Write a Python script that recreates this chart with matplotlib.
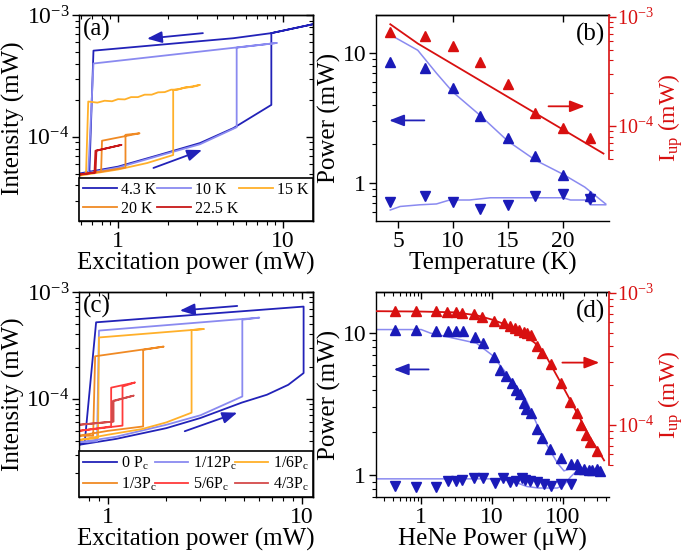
import matplotlib
matplotlib.use('Agg')
import matplotlib.pyplot as plt
from matplotlib import ticker

plt.rcParams['font.family'] = ['Liberation Serif', 'DejaVu Serif']
plt.rcParams['mathtext.fontset'] = 'custom'
plt.rcParams['mathtext.rm'] = 'Liberation Serif'
plt.rcParams['mathtext.it'] = 'Liberation Serif:italic'
plt.rcParams['mathtext.default'] = 'regular'
plt.rcParams['font.size'] = 16
plt.rcParams['axes.linewidth'] = 1.0

# colours
DBLUE = '#2222b8'
LBLUE = '#8a8af0'
LORANGE = '#ffb02a'
ORANGE = '#f08a24'
DRED = '#c81818'
RED = '#d81010'
RED2 = '#ff3a3a'
RED3 = '#d44a4a'
TRI_BLUE = '#1a1ab8'

# ---------- (a) hysteresis vs temperature ----------
t43_x = [0.58, 1.0, 1.77, 3.14, 5.0, 8.5, 8.5, 15.2, 8.5, 5.0, 0.71, 0.67, 0.58]
t43_y = [5.0e-5, 5.7e-5, 7.1e-5, 8.9e-5, 1.18e-4, 1.83e-4, 7.1e-4, 8.4e-4, 7.1e-4, 6.45e-4, 5.1e-4, 5.0e-5, 4.9e-5]
t10_x = [0.58, 1.0, 1.77, 3.14, 5.24, 5.24, 9.2, 0.71, 0.66, 0.58]
t10_y = [4.9e-5, 5.6e-5, 7.0e-5, 8.7e-5, 1.2e-4, 5.4e-4, 5.9e-4, 4.0e-4, 5.0e-5, 4.9e-5]
t15_x = [0.58, 1.0, 1.5, 2.16, 2.16, 3.14, 2.8, 2.55, 2.3, 2.1, 1.92, 1.75, 1.6, 1.45, 1.32, 1.2,
         1.1, 1.0, 0.92, 0.83, 0.75, 0.66, 0.64, 0.58]
t15_y = [4.8e-5, 5.4e-5, 6.1e-5, 7.1e-5, 2.42e-4, 2.67e-4, 2.56e-4, 2.55e-4, 2.44e-4, 2.44e-4, 2.33e-4,
         2.32e-4, 2.22e-4, 2.22e-4, 2.12e-4, 2.12e-4, 2.03e-4, 2.04e-4, 1.96e-4, 1.98e-4, 1.91e-4,
         1.95e-4, 5.0e-5, 4.9e-5]
t20_x = [0.58, 0.8, 1.11, 1.11, 1.35, 0.80, 0.79, 0.58]
t20_y = [4.9e-5, 5.2e-5, 5.6e-5, 1.04e-4, 1.07e-4, 9.3e-5, 5.2e-5, 4.9e-5]
t225_x = [0.58, 0.73, 0.74, 1.05, 0.73, 0.72, 0.58]
t225_y = [4.9e-5, 5.1e-5, 7.7e-5, 8.6e-5, 7.7e-5, 5.1e-5, 4.9e-5]
labels_a = ['4.3 K', '10 K', '15 K', '20 K', '22.5 K']

# ---------- (c) hysteresis vs HeNe power ----------
p0_x = [0.71, 1.1, 2.0, 3.0, 4.9, 6.6, 8.5, 10.2, 10.2, 0.87, 0.76, 0.71]
p0_y = [3.7e-5, 4.2e-5, 5.3e-5, 6.6e-5, 9.2e-5, 1.09e-4, 1.35e-4, 1.74e-4, 7.3e-4, 5.2e-4, 3.9e-5, 3.7e-5]
p12_x = [0.71, 1.1, 2.0, 3.0, 4.93, 4.93, 6.03, 0.90, 0.88, 0.71]
p12_y = [3.9e-5, 4.4e-5, 5.7e-5, 7.0e-5, 1.05e-4, 5.5e-4, 5.75e-4, 4.35e-4, 4.0e-5, 3.9e-5]
p6_x = [0.71, 1.0, 1.5, 2.0, 2.7, 2.7, 3.13, 0.90, 0.89, 0.71]
p6_y = [4.1e-5, 4.6e-5, 5.2e-5, 6.0e-5, 7.4e-5, 4.4e-4, 4.5e-4, 3.75e-4, 4.3e-5, 4.1e-5]
p3_x = [0.71, 1.0, 1.52, 1.52, 1.94, 0.86, 0.84, 0.71]
p3_y = [4.5e-5, 5.0e-5, 5.5e-5, 2.87e-4, 3.08e-4, 2.5e-4, 4.5e-5, 4.5e-5]
p56_x = [0.71, 1.19, 1.19, 1.38, 1.04, 1.04, 0.71]
p56_y = [5.0e-5, 5.6e-5, 1.30e-4, 1.42e-4, 1.27e-4, 5.5e-5, 5.0e-5]
p43_x = [0.71, 1.07, 1.07, 1.36, 1.05, 1.05, 0.71]
p43_y = [5.7e-5, 6.1e-5, 9.6e-5, 1.07e-4, 9.4e-5, 6.1e-5, 5.7e-5]
labels_c = ['0 P$_c$', '1/12P$_c$', '1/6P$_c$', '1/3P$_c$', '5/6P$_c$', '4/3P$_c$']

# ---------- (b) thresholds vs temperature ----------
temp_b = [4.3, 7.5, 10, 12.5, 15, 17.5, 20, 22.5]
iup_b = [7.2e-4, 6.65e-4, 5.4e-4, 3.9e-4, 2.45e-4, 1.32e-4, 9.7e-5, 7.7e-5]
pup_b = [8.5, 7.7, 5.4, 3.3, 2.2, 1.6, 1.16, 0.79]
pdown_b = [0.72, 0.80, 0.71, 0.63, 0.68, 0.79, 0.82, 0.75]
fit_iup_t = [4.3, 6.8, 23.7]
fit_iup_b = [8.56e-4, 5.7e-4, 5.6e-5]
fit_pup_t = [4.3, 6.8, 8.5, 10, 12.5, 15, 17.5, 20, 22, 23.9]
fit_pup_b = [13.8, 10.5, 7.0, 5.0, 3.3, 2.1, 1.5, 1.17, 0.93, 0.69]
fit_pdn_t = [4.3, 5.2, 7, 8.5, 9.7, 11.5, 13.4, 20, 20.7, 22.2, 22.5, 23.9]
fit_pdn_b = [0.62, 0.66, 0.68, 0.69, 0.74, 0.74, 0.77, 0.77, 0.74, 0.74, 0.68, 0.68]

# ---------- (d) thresholds vs HeNe power ----------
hene_red = [0.43, 0.83, 1.59, 2.33, 3.06, 3.8, 5.6, 7.3, 10.5, 14.6, 17.7, 20.7, 23.8, 28, 31.3, 34.8,
            43.3, 49.8, 66.8, 92.5, 125, 156, 181, 209, 240, 305]
iup_d = [7.3e-4, 7.3e-4, 7.27e-4, 7.18e-4, 7.18e-4, 7.1e-4, 6.93e-4, 6.6e-4, 6.17e-4, 5.9e-4, 5.6e-4,
         5.4e-4, 5.25e-4, 5.1e-4, 4.95e-4, 4.8e-4, 4.0e-4, 3.5e-4, 2.9e-4, 2.07e-4, 1.5e-4, 1.23e-4,
         1.0e-4, 8.4e-5, 7.4e-5, 6.4e-5]
hene_up = [0.43, 0.85, 1.63, 2.38, 3.12, 3.88, 5.68, 7.45, 10.5, 13.1, 15.9, 19.2, 21.4, 24.6, 28, 30.5,
           34.8, 43.3, 51, 65.3, 94.6, 128, 156, 167, 197, 233, 259, 298, 334]
pup_d = [10.6, 10.6, 10.3, 10.4, 10.4, 10.4, 9.4, 8.55, 6.75, 5.5, 4.98, 4.43, 3.97, 3.71, 3.2, 2.9,
         2.72, 2.1, 1.81, 1.52, 1.31, 1.19, 1.2, 1.11, 1.10, 1.09, 1.09, 1.10, 1.07]
hene_dn = [0.43, 0.85, 1.63, 2.38, 3.12, 3.8, 5.57, 7.45, 10.9, 14.3, 18.1, 22, 26.6, 29.5, 34, 43.3,
           53.9, 66.9, 92.5, 128]
pdown_d = [0.84, 0.82, 0.82, 0.91, 0.91, 0.92, 0.95, 0.95, 0.88, 0.96, 0.90, 0.91, 0.95, 0.93, 0.91,
           0.90, 0.87, 0.84, 0.87, 0.87]
fit_up_x = [0.23, 1.0, 1.35, 6.0, 10, 20, 30, 54, 83, 103, 128, 165]
fit_up_d = [10.6, 10.6, 10.0, 8.5, 7.0, 4.5, 3.4, 1.76, 1.22, 1.07, 1.11, 1.10]
fit_dn_x = [0.23, 12, 20, 31, 45, 83, 103, 128, 165]
fit_dn_d = [0.94, 0.94, 0.90, 0.83, 0.81, 0.81, 0.85, 0.97, 1.10]
fit_red_x = [0.23, 1, 3, 6, 10, 20, 40, 60, 100, 150, 250, 380]
fit_red_d = [7.3e-4, 7.25e-4, 7.15e-4, 6.8e-4, 6.3e-4, 5.5e-4, 4.2e-4, 3.2e-4, 1.95e-4, 1.3e-4, 7.8e-5, 5.4e-5]

TICK_FS = 17
LABEL_FS = 18


def plain_fmt(v, pos):
    return f'{v:g}'


def frame_ticks(ax, mirror_right=True):
    # left/bottom ticks outward, mirrored ticks on top/right pointing in
    ax.tick_params(which='both', direction='out', top=False, right=False, labelsize=TICK_FS, pad=2)
    ax.tick_params(which='major', length=5, width=1)
    ax.tick_params(which='minor', length=3, width=0.8)
    top = ax.secondary_xaxis('top')
    top.tick_params(which='both', direction='in')
    top.tick_params(which='major', length=5, width=1)
    top.tick_params(which='minor', length=3, width=0.8)
    top.xaxis.set_major_formatter(ticker.NullFormatter())
    top.xaxis.set_minor_formatter(ticker.NullFormatter())
    if mirror_right:
        right = ax.secondary_yaxis('right')
        right.tick_params(which='both', direction='in')
        right.tick_params(which='major', length=5, width=1)
        right.tick_params(which='minor', length=3, width=0.8)
        right.yaxis.set_major_formatter(ticker.NullFormatter())
        right.yaxis.set_minor_formatter(ticker.NullFormatter())


def arrow(ax, tail, head, color):
    ax.annotate('', xy=head, xytext=tail,
                arrowprops=dict(arrowstyle='-|>,head_length=0.9,head_width=0.35', color=color,
                                lw=1.3, shrinkA=0, shrinkB=0, mutation_scale=10))


def red_axis(ax, ylim, label):
    ax2 = ax.twinx()
    ax2.set_yscale('log')
    ax2.set_ylim(*ylim)
    for s in ['left', 'top', 'bottom']:
        ax2.spines[s].set_visible(False)
    ax.spines['right'].set_visible(False)
    ax2.spines['right'].set_color(RED)
    ax2.spines['right'].set_linewidth(1.2)
    ax2.spines['right'].set_bounds(5e-5, ylim[1])
    ax2.yaxis.set_major_locator(ticker.FixedLocator([1e-4, 1e-3]))
    minors = [m * 10.0 ** e for e in (-5, -4) for m in range(2, 10) if 5e-5 <= m * 10.0 ** e < 1e-3]
    ax2.yaxis.set_minor_locator(ticker.FixedLocator(minors))
    ax2.yaxis.set_minor_formatter(ticker.NullFormatter())
    ax2.tick_params(which='both', direction='out', colors=RED, labelsize=14.5, pad=1)
    ax2.tick_params(which='major', length=5, width=1)
    ax2.tick_params(which='minor', length=3, width=0.8)
    ax2.set_ylabel(label, color=RED, fontsize=17, labelpad=1)
    return ax2


def row_legend(ax, height):
    # matplotlib fills legend columns first; reorder so the entries read row by row
    h, l = ax.get_legend_handles_labels()
    n = len(h)
    rows = (n + 2) // 3
    order = [r * 3 + c for c in range(3) for r in range(rows) if r * 3 + c < n]
    leg = ax.legend([h[i] for i in order], [l[i] for i in order], ncol=3, loc='lower left',
                    bbox_to_anchor=(0, 0, 1, height), mode='expand', fontsize=11.5, fancybox=False,
                    edgecolor='k', framealpha=1, borderaxespad=0, handlelength=2.1,
                    handletextpad=0.3, columnspacing=0.2, borderpad=0.25, labelspacing=0.2)
    leg.get_frame().set_linewidth(1.2)


fig = plt.figure(figsize=(6.85, 5.58), dpi=100)

# ===== (a) =====
ax = fig.add_axes([0.1153, 0.6039, 0.3416, 0.3692])
ax.set_xscale('log')
ax.set_yscale('log')
curves_a = [(t43_x, t43_y, DBLUE), (t10_x, t10_y, LBLUE), (t15_x, t15_y, LORANGE),
            (t20_x, t20_y, ORANGE), (t225_x, t225_y, DRED)]
for (x, y, c), lab in zip(curves_a, labels_a):
    ax.plot(x, y, color=c, lw=1.3, label=lab)
ax.set_xlim(0.58, 15.2)
ax.set_ylim(2.04e-5, 1e-3)
ax.xaxis.set_major_formatter(ticker.FuncFormatter(plain_fmt))
ax.xaxis.set_minor_formatter(ticker.NullFormatter())
ax.set_xlabel('Excitation power (mW)', fontsize=LABEL_FS, labelpad=0)
ax.set_ylabel('Intensity (mW)', fontsize=LABEL_FS, labelpad=1)
frame_ticks(ax)
arrow(ax, (3.27, 7.1e-4), (1.5, 6.4e-4), DBLUE)
arrow(ax, (1.64, 5.56e-5), (3.23, 7.8e-5), DBLUE)
ax.text(0.015, 0.985, '(a)', transform=ax.transAxes, ha='left', va='top', fontsize=LABEL_FS)
row_legend(ax, 0.225)

# ===== (c) =====
ax = fig.add_axes([0.1153, 0.1093, 0.3416, 0.3674])
ax.set_xscale('log')
ax.set_yscale('log')
curves_c = [(p0_x, p0_y, DBLUE), (p12_x, p12_y, LBLUE), (p6_x, p6_y, LORANGE),
            (p3_x, p3_y, ORANGE), (p56_x, p56_y, RED2), (p43_x, p43_y, RED3)]
for (x, y, c), lab in zip(curves_c, labels_c):
    ax.plot(x, y, color=c, lw=1.3, label=lab)
ax.set_xlim(0.71, 11.4)
ax.set_ylim(1.2e-5, 1e-3)
ax.xaxis.set_major_formatter(ticker.FuncFormatter(plain_fmt))
ax.xaxis.set_minor_formatter(ticker.NullFormatter())
ax.set_xlabel('Excitation power (mW)', fontsize=LABEL_FS, labelpad=0)
ax.set_ylabel('Intensity (mW)', fontsize=LABEL_FS, labelpad=1)
frame_ticks(ax)
arrow(ax, (4.64, 7.4e-4), (2.35, 6.7e-4), DBLUE)
arrow(ax, (2.49, 4.96e-5), (4.64, 7.4e-5), DBLUE)
ax.text(0.015, 0.985, '(c)', transform=ax.transAxes, ha='left', va='top', fontsize=LABEL_FS)
row_legend(ax, 0.255)

# ===== (b) =====
ax = fig.add_axes([0.5489, 0.6039, 0.3401, 0.3692])
ax.set_yscale('log')
ax2 = red_axis(ax, (1.35e-5, 1.04e-3), 'I$_{up}$ (mW)')
ax2.plot(fit_iup_t, fit_iup_b, color=RED, lw=1.3)
ax2.plot(temp_b, iup_b, '^', color=RED, ms=7, mec=RED)
ax.plot(fit_pup_t, fit_pup_b, color=LBLUE, lw=1.1)
ax.plot(fit_pdn_t, fit_pdn_b, color=LBLUE, lw=1.1)
ax.plot(temp_b, pup_b, '^', color=TRI_BLUE, ms=7)
ax.plot(temp_b, pdown_b, 'v', color=TRI_BLUE, ms=7)
ax.set_xlim(3, 24.2)
ax.set_ylim(0.51, 19.6)
ax.set_xticks([5, 10, 15, 20])
ax.yaxis.set_major_formatter(ticker.FuncFormatter(plain_fmt))
ax.yaxis.set_minor_formatter(ticker.NullFormatter())
ax.set_xlabel('Temperature (K)', fontsize=LABEL_FS, labelpad=0)
ax.set_ylabel('Power (mW)', fontsize=LABEL_FS, labelpad=1)
frame_ticks(ax, mirror_right=False)
arrow(ax, (7.4, 3.03), (4.2, 3.03), DBLUE)
arrow(ax, (18.7, 3.89), (22.0, 3.89), RED)
ax.text(0.985, 0.96, '(b)', transform=ax.transAxes, ha='right', va='top', fontsize=LABEL_FS)

# ===== (d) =====
ax = fig.add_axes([0.5489, 0.1093, 0.3401, 0.3674])
ax.set_xscale('log')
ax.set_yscale('log')
ax2 = red_axis(ax, (2.85e-5, 1.02e-3), 'I$_{up}$ (mW)')
ax2.plot(fit_red_x, fit_red_d, color=RED, lw=1.3)
ax2.plot(hene_red, iup_d, '^', color=RED, ms=7, mec=RED)
ax.plot(fit_up_x, fit_up_d, color=LBLUE, lw=1.1)
ax.plot(fit_dn_x, fit_dn_d, color=LBLUE, lw=1.1)
ax.plot(hene_up, pup_d, '^', color=TRI_BLUE, ms=7)
ax.plot(hene_dn, pdown_d, 'v', color=TRI_BLUE, ms=7)
ax.set_xlim(0.23, 445)
ax.set_ylim(0.70, 19.5)
ax.xaxis.set_major_formatter(ticker.FuncFormatter(plain_fmt))
ax.xaxis.set_minor_formatter(ticker.NullFormatter())
ax.yaxis.set_major_formatter(ticker.FuncFormatter(plain_fmt))
ax.yaxis.set_minor_formatter(ticker.NullFormatter())
ax.set_xlabel('HeNe Power (\u03bcW)', fontsize=LABEL_FS, labelpad=0)
ax.set_ylabel('Power (mW)', fontsize=LABEL_FS, labelpad=1)
frame_ticks(ax, mirror_right=False)
arrow(ax, (1.27, 5.55), (0.41, 5.55), DBLUE)
arrow(ax, (98, 6.2), (325, 6.2), RED)
ax.text(0.985, 0.96, '(d)', transform=ax.transAxes, ha='right', va='top', fontsize=LABEL_FS)

fig.savefig('out.png', dpi=100)
